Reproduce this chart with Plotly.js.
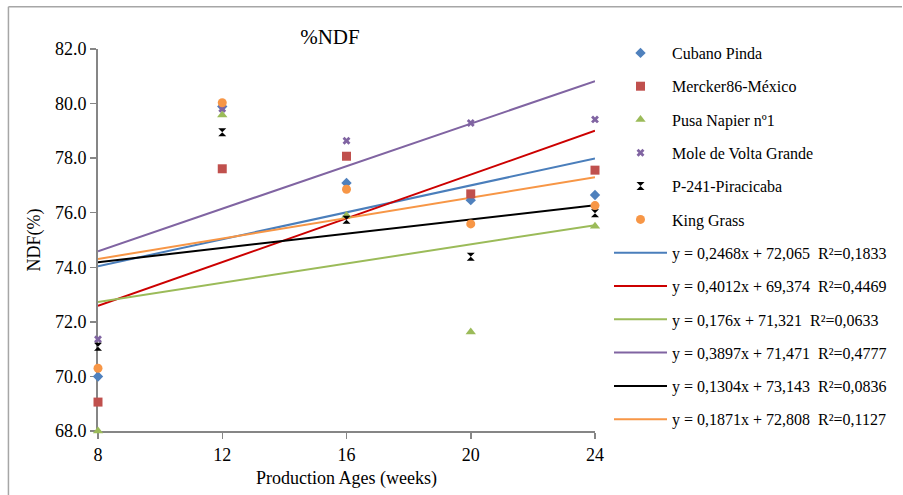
<!DOCTYPE html>
<html>
<head>
<meta charset="utf-8">
<script src="https://cdn.plot.ly/plotly-3.0.1.min.js"></script>
<style>html,body{margin:0;padding:0;background:#fff;}#chart{width:903px;height:495px;}</style>
</head>
<body>
<div id="chart"></div>
<script>
// Data
const weeks = [8, 12, 16, 20, 24];
const seriesNames = ["Cubano Pinda", "Mercker86-México", "Pusa Napier nº1", "Mole de Volta Grande", "P-241-Piracicaba", "King Grass"];
const cubanoPinda   = [70.0, 79.89, 77.09, 76.46, 76.65];
const mercker86     = [69.06, 77.61, 78.07, 76.69, 77.56];
const pusaNapier    = [68.0, 79.58, 75.90, 71.63, 75.50];
const moleVolta     = [71.36, 79.81, 78.64, 79.29, 79.42];
const p241          = [71.09, 78.95, 75.74, 74.39, 75.98];
const kingGrass     = [70.30, 80.03, 76.86, 75.59, 76.26];
const seriesValues = [cubanoPinda, mercker86, pusaNapier, moleVolta, p241, kingGrass];
// Trendline coefficients (from the chart's legend)
const slopes     = [0.2468, 0.4012, 0.176, 0.3897, 0.1304, 0.1871];
const intercepts = [72.065, 69.374, 71.321, 71.471, 73.143, 72.808];
const rSquared   = ["0,1833", "0,4469", "0,0633", "0,4777", "0,0836", "0,1127"];
const yTicks = [68, 70, 72, 74, 76, 78, 80, 82];

// Styles
const FONT = 'Liberation Serif, Times New Roman, serif';
const markerColors = ["#4F81BD", "#C0504D", "#9BBB59", "#8064A2", "#000000", "#F79646"];
const markerSymbols = ["diamond", "square", "triangle-up", "x", "hourglass", "circle"];
const markerSizes = [8, 9, 9, 7, 8, 9];
const lineColors = ["#4A7EBB", "#CC0000", "#9BBB59", "#8064A2", "#000000", "#F79646"];

function fmt(v){ return String(v).replace('.', ','); }

const traces = [];
for (let i = 0; i < 6; i++) {
  const x0 = weeks[0], x1 = weeks[weeks.length - 1];
  traces.push({
    x: [x0, x1],
    y: [slopes[i] * x0 + intercepts[i], slopes[i] * x1 + intercepts[i]],
    mode: 'lines',
    type: 'scatter',
    line: {color: lineColors[i], width: 2},
    name: 'y = ' + fmt(slopes[i]) + 'x + ' + fmt(intercepts[i]) + '  R²=' + rSquared[i],
    legendgroup: 'l' + i,
    legendrank: 7 + i,
    hoverinfo: 'skip'
  });
}
for (let i = 0; i < 6; i++) {
  traces.push({
    x: weeks,
    y: seriesValues[i],
    mode: 'markers',
    type: 'scatter',
    cliponaxis: false,
    marker: {color: markerColors[i], symbol: markerSymbols[i], size: markerSizes[i], line: {width: 0}},
    name: seriesNames[i],
    legendgroup: 'm' + i,
    legendrank: 1 + i
  });
}

const L = 97.7, R = 595.5, T = 49.3, B = 431;
const pw = R - L, ph = B - T;
const px = v => (v - L) / pw;
const py = v => (B - v) / ph;

const layout = {
  width: 903, height: 495,
  margin: {l: L, r: 903 - R, t: T, b: 495 - B, pad: 0},
  paper_bgcolor: '#fff', plot_bgcolor: '#fff',
  font: {family: FONT, color: '#000', size: 16},
  title: {text: '%NDF', x: px(330), xref: 'paper', xanchor: 'center', y: 1 - 37/495, yanchor: 'middle', font: {size: 21, family: FONT, color: '#000'}},
  xaxis: {
    range: [8, 24], tickvals: weeks, ticktext: weeks.map(String),
    showgrid: false, zeroline: false, showline: true, linecolor: '#868686', linewidth: 2,
    ticks: 'outside', ticklen: 6, tickwidth: 1.5, tickcolor: '#868686', layer: 'below traces',
    tickfont: {size: 18, family: FONT, color: '#000'}, fixedrange: true,
    title: {text: 'Production Ages (weeks)', font: {size: 18, family: FONT, color: '#000'}, standoff: 8}
  },
  yaxis: {
    range: [68, 82], tickvals: yTicks, ticktext: yTicks.map(v => v.toFixed(1)),
    showgrid: false, zeroline: false, showline: true, linecolor: '#868686', linewidth: 2,
    ticks: 'outside', ticklen: 6, tickwidth: 1.5, tickcolor: '#868686', layer: 'below traces',
    tickfont: {size: 18, family: FONT, color: '#000'}, fixedrange: true,
    title: {text: 'NDF(%)', font: {size: 18, family: FONT, color: '#000'}, standoff: 10}
  },
  showlegend: true,
  legend: {
    xref: 'container', yref: 'container',
    x: 609 / 903, xanchor: 'left', y: 1 - 36 / 495, yanchor: 'top',
    maxheight: 480,
    font: {size: 16, family: FONT, color: '#000'}, tracegroupgap: 9.5, itemwidth: 53,
    bgcolor: 'rgba(0,0,0,0)', borderwidth: 0, traceorder: 'grouped'
  },
  shapes: [
    {type: 'line', xref: 'paper', yref: 'paper', x0: px(8), x1: px(8), y0: py(7), y1: py(495), line: {color: '#A6A6A6', width: 1.5}},
    {type: 'line', xref: 'paper', yref: 'paper', x0: px(8), x1: px(903), y0: py(7), y1: py(7), line: {color: '#A6A6A6', width: 1.5}}
  ]
};

Plotly.newPlot('chart', traces, layout, {displayModeBar: false, staticPlot: true});
</script>
</body>
</html>
